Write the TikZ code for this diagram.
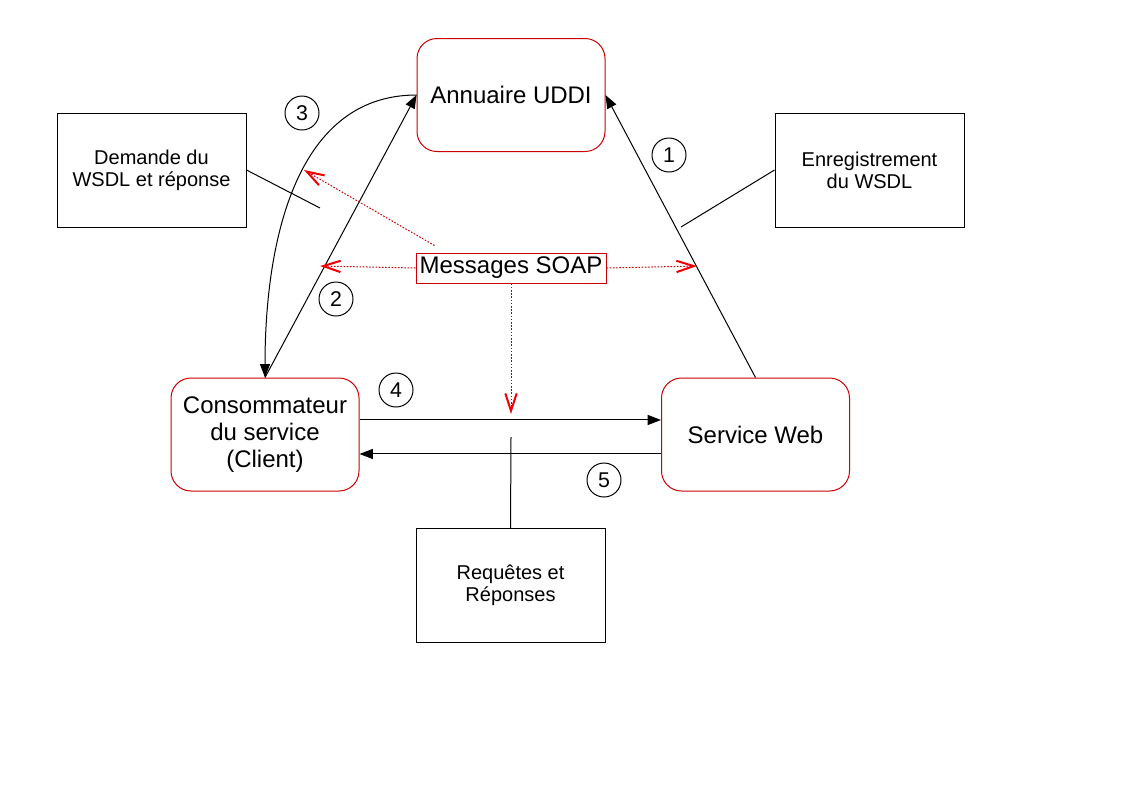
\documentclass[tikz,border=0pt]{standalone}
\usepackage{fontspec}
\setmainfont{Liberation Sans}
\usetikzlibrary{arrows.meta}
\definecolor{boxred}{RGB}{204,0,0}
\definecolor{tipred}{RGB}{240,0,0}

\begin{document}
\begin{tikzpicture}[x=0.75pt,y=-0.75pt,
  role/.style={draw=boxred,line width=0.75pt,rounded corners=15pt,align=center,
    minimum width=141pt,minimum height=84.75pt,font=\fontsize{18}{20.5}\selectfont},
  note/.style={draw,line width=0.75pt,align=center,
    minimum width=141.75pt,minimum height=85.5pt,font=\fontsize{15}{16.5}\selectfont},
  num/.style={draw,circle,line width=0.75pt,inner sep=0pt,minimum size=25.5pt,
    font=\fontsize{16}{18}\selectfont},
  flow/.style={line width=0.75pt,-{Triangle[length=10pt,width=7.5pt]}},
  msg/.style={draw=boxred,line width=0.75pt,dash pattern=on 1.2pt off 1.2pt,
    -{Straight Barb[length=13pt,width=8.5pt,line width=1.5pt,color=tipred]}}]
\useasboundingbox[fill=white] (0,0) rectangle (1123,794);
% Boxes
\node[role] (uddi)   at (511,95)    {Annuaire UDDI};
\node[role] (client) at (265,434.5) {Consommateur\\du service\\(Client)};
\node[role] (web)    at (755.5,434.5) {Service Web};
\node[draw=boxred,line width=0.75pt,minimum width=142.5pt,minimum height=22.5pt,
      inner sep=1pt,font=\fontsize{18}{20}\selectfont] (soap) at (511,268) {Messages SOAP};
\node[note] (ask)  at (151.5,170)   {Demande du\\WSDL et réponse};
\node[note] (reg)  at (869.5,170)   {Enregistrement\\du WSDL};
\node[note] (reqs) at (510.5,585.5) {Requêtes et\\Réponses};
% Steps
\node[num] (n1) at (669,155) {1};
\node[num] (n2) at (336,299) {2};
\node[num] (n3) at (302,113) {3};
\node[num] (n4) at (396,390) {4};
\node[num] (n5) at (604,480) {5};
% Free ends
\coordinate (askend) at (320,208);
\coordinate (regend) at (681,227);
\coordinate (reqend) at (511,437);
\coordinate (m3) at (304,170);
\coordinate (ml) at (320,266);
\coordinate (mr) at (697,266);
\coordinate (md) at (511,414);
% Calls
\draw[flow] (web.north) -- (uddi.east);
\draw[flow] (client.north) -- (uddi.west);
\draw[flow] (uddi.west) to[out=180,in=90] (client.north);
\draw[flow] ([yshift=10.9pt]client.east) -- ([yshift=10.9pt]web.west);
\draw[flow] ([yshift=-14.6pt]web.west) -- ([yshift=-14.6pt]client.east);
% Notes
\draw[line width=0.75pt] (ask.east) -- (askend);
\draw[line width=0.75pt] (reg.west) -- (regend);
\draw[line width=0.75pt] (reqs.north) -- (reqend);
% SOAP messages
\draw[msg] ([shift={(19,-7)}]soap.north west) -- (m3);
\draw[msg] (soap.west) -- (ml);
\draw[msg] (soap.east) -- (mr);
\draw[msg] (soap.south) -- (md);
\end{tikzpicture}
\end{document}
